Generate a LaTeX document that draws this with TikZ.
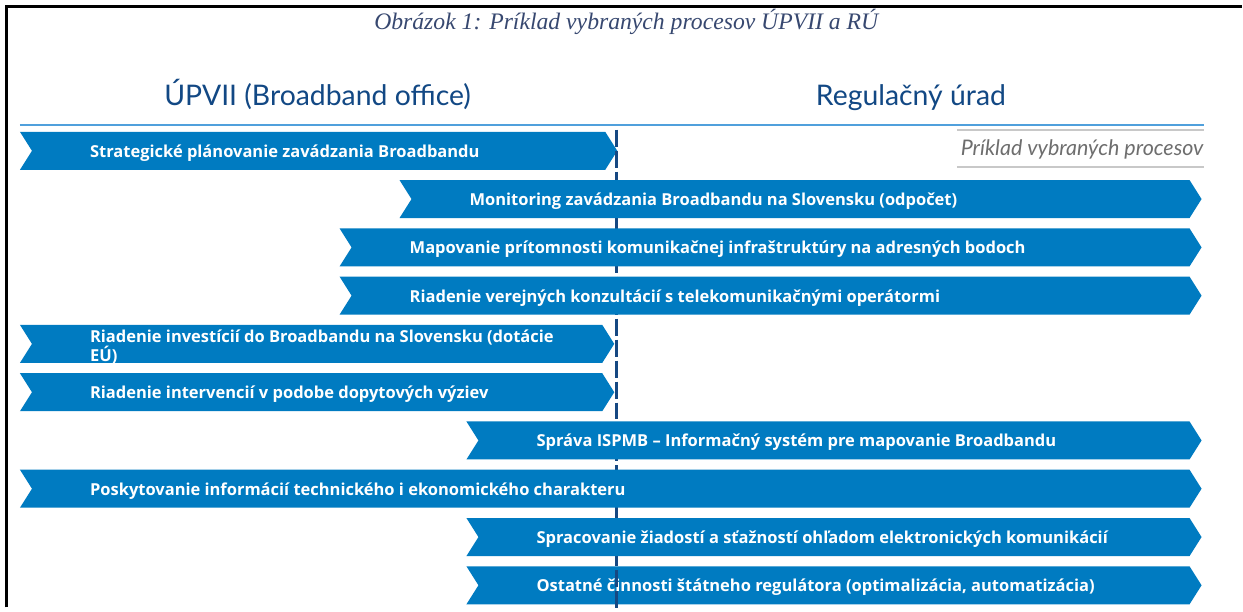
\documentclass[tikz,border=0pt]{standalone}
\usepackage{fontspec}
\setmainfont{Lato}
\newfontfamily\bandfont{Open Sans}
\newfontfamily\captionserif{Liberation Serif}
\definecolor{procblue}{RGB}{0,123,193}
\definecolor{dividerblue}{RGB}{22,72,130}
\definecolor{headblue}{RGB}{18,72,132}
\definecolor{captionblue}{RGB}{55,72,112}
\definecolor{ruleblue}{RGB}{80,160,220}
\definecolor{labelgray}{RGB}{110,110,110}
\definecolor{linegray}{RGB}{200,200,200}

% one process band: name, left x, tip x, top y, text
\newcommand\processrow[5]{%
  \fill[procbox] (#2,#4) -- ({#3-12},#4) -- (#3,{#4+19}) -- ({#3-12},{#4+38})
    -- (#2,{#4+38}) -- ({#2+12},{#4+19}) -- cycle;
  \node[proctext] (#1) at ({#2+70},{#4+25.5}) {#5};
}

\begin{document}
\begin{tikzpicture}[x=1pt,y=-1pt,
  procbox/.style={fill=procblue},
  proctext/.style={text=white,font=\bandfont\bfseries\fontsize{16.5}{18}\selectfont,
    anchor=base west,inner sep=0pt,align=left},
  headtext/.style={text=headblue,font=\fontsize{28.4}{32}\selectfont,inner sep=0pt,anchor=base},
  divider/.style={draw=dividerblue,line width=3.5pt,dash pattern=on 17pt off 4pt}]

% canvas
\fill[white] (0,0) rectangle (1243,608);

% frame
\coordinate (fbl) at (7,608);
\coordinate (ftl) at (7,7);
\coordinate (ftr) at (1243,7);
\draw[black,line width=3pt] (fbl) -- (ftl) -- (ftr);

% caption
\node[text=captionblue,font=\captionserif\itshape\fontsize{23.7}{26}\selectfont,inner sep=0pt,anchor=base]
  (caption) at (627,30) {Obrázok 1: Príklad vybraných procesov ÚPVII a RÚ};

% column headings
\node[headtext] (upvii) at (318,106) {ÚPVII (Broadband office)};
\node[headtext] (ru) at (912,106) {Regulačný úrad};

\coordinate (rulel) at (20,125);
\coordinate (ruler) at (1205,125);
\draw[ruleblue,line width=1.5pt] (rulel) -- (ruler);

% legend label
\coordinate (lgtl) at (958,130);
\coordinate (lgtr) at (1205,130);
\coordinate (lgbl) at (958,167);
\coordinate (lgbr) at (1205,167);
\draw[linegray,line width=1.5pt] (lgtl) -- (lgtr);
\draw[linegray,line width=1.5pt] (lgbl) -- (lgbr);
\node[text=labelgray,font=\itshape\fontsize{21.5}{24}\selectfont,inner sep=0pt,anchor=base east]
  (legend) at (1205,156) {Príklad vybraných procesov};

% boundary between the two offices
\coordinate (dtop) at (617,130);
\coordinate (dbot) at (617,610);
\draw[divider] (dtop) -- (dbot);

% process bands
\processrow{p1}{20}{618}{132}{Strategické plánovanie zavádzania Broadbandu}
\processrow{p2}{400}{1203}{180.3}{Monitoring zavádzania Broadbandu na Slovensku (odpočet)}
\processrow{p3}{340}{1203}{228.7}{Mapovanie prítomnosti komunikačnej infraštruktúry na adresných bodoch}
\processrow{p4}{340}{1203}{277}{Riadenie verejných konzultácií s telekomunikačnými operátormi}
\fill[procbox] (20,325.3) -- (603,325.3) -- (615,344.3) -- (603,363.3) -- (20,363.3) -- (32,344.3) -- cycle;
\node[proctext] (p5) at (90,361.5) {Riadenie investícií do Broadbandu na Slovensku (dotácie\\[0.5pt]EÚ)};
\processrow{p6}{20}{615}{373.7}{Riadenie intervencií v podobe dopytových výziev}
\processrow{p7}{467}{1203}{422}{Správa ISPMB – Informačný systém pre mapovanie Broadbandu}
\processrow{p8}{20}{1203}{470.3}{Poskytovanie informácií technického i ekonomického charakteru}
\processrow{p9}{467}{1203}{518.7}{Spracovanie žiadostí a sťažností ohľadom elektronických komunikácií}
\processrow{p10}{467}{1203}{567}{Ostatné činnosti štátneho regulátora (optimalizácia, automatizácia)}

% boundary shown on top of the first and last bands
\begin{scope}
  \clip (600,128) rectangle (640,172) (600,565) rectangle (640,610);
  \draw[divider] (dtop) -- (dbot);
\end{scope}
\end{tikzpicture}
\end{document}
